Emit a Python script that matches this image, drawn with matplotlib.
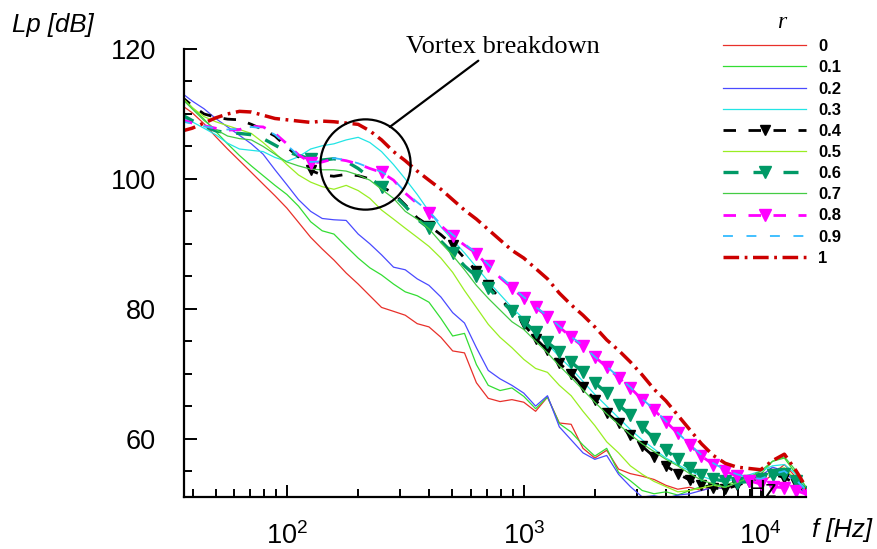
"""Sound pressure level spectra vs radial position r, with vortex-breakdown callout."""
import matplotlib
matplotlib.use("Agg")
import matplotlib.pyplot as plt
from matplotlib.lines import Line2D
from matplotlib.font_manager import FontProperties
from matplotlib.ticker import LogLocator, MultipleLocator, NullFormatter

plt.rcParams["font.family"] = ["Liberation Sans", "DejaVu Sans"]
plt.rcParams["mathtext.default"] = "regular"

# frequency grid (Hz), 1/20-decade steps
FREQ = [35.5, 39.8, 44.7, 50.1, 56.2, 63.1, 70.8, 79.4, 89.1, 100,
        112, 126, 141, 158, 178, 200, 224, 251, 282, 316,
        355, 398, 447, 501, 562, 631, 708, 794, 891, 1000,
        1122, 1259, 1413, 1585, 1778, 1995, 2239, 2512, 2818, 3162,
        3548, 3981, 4467, 5012, 5623, 6310, 7079, 7943, 8913, 10000,
        11220, 12589, 14125, 15849]

# Lp [dB], one list per radial position r
LP_R00 = [111.5, 110.2, 108.5, 106.5, 104.6, 102.8, 101.0, 99.2, 97.4, 95.5,
          93.3, 91.0, 89.2, 87.5, 85.5, 83.8, 82.0, 80.2, 79.6, 79.0,
          77.7, 77.2, 75.6, 73.5, 73.2, 68.6, 66.2, 65.7, 66.0, 65.6,
          64.2, 66.4, 62.4, 62.2, 58.5, 57.0, 58.2, 55.3, 54.6, 54.2,
          53.7, 52.8, 52.2, 52.5, 52.0, 52.6, 52.2, 53.0, 53.5, 53.0,
          54.5, 56.0, 54.0, 51.5]
LP_R01 = [113.0, 111.0, 109.2, 107.3, 105.4, 103.6, 102.0, 100.5, 99.0, 97.6,
          95.8, 93.4, 92.0, 91.5, 89.6, 87.8, 86.3, 85.2, 83.8, 82.6,
          82.0, 81.0, 78.5, 75.8, 76.2, 71.4, 68.2, 67.4, 67.8, 66.5,
          64.6, 66.4, 62.3, 61.0, 59.0, 57.3, 58.5, 54.8, 53.5, 52.0,
          51.5, 51.8, 51.3, 52.0, 52.6, 53.0, 52.8, 53.5, 54.0, 54.5,
          56.5, 57.0, 54.5, 51.5]
LP_R02 = [113.4, 112.0, 110.8, 109.3, 108.0, 106.7, 105.4, 103.8, 101.4, 99.1,
          96.8, 95.0, 93.9, 93.7, 93.6, 91.5, 90.0, 88.3, 86.4, 86.0,
          84.6, 83.6, 81.8, 79.4, 77.8, 74.0, 70.5, 69.2, 68.2, 67.0,
          65.0, 66.6, 61.8, 59.8, 57.8, 56.8, 57.4, 54.5, 52.6, 51.0,
          51.2, 50.8, 51.3, 51.5, 52.0, 52.5, 52.3, 53.0, 53.8, 54.2,
          55.6, 55.0, 53.0, 51.0]
LP_R03 = [109.6, 108.8, 107.8, 106.8, 105.5, 104.6, 104.4, 104.2, 103.3, 102.7,
          103.4, 104.6, 105.1, 105.4, 106.0, 106.4, 105.6, 104.2, 102.2, 100.0,
          97.6, 95.0, 92.6, 90.6, 88.6, 86.4, 84.2, 82.2, 80.2, 78.4,
          76.4, 74.6, 72.6, 70.8, 68.8, 66.8, 65.0, 63.2, 61.4, 59.8,
          58.4, 57.0, 56.0, 55.0, 54.2, 53.6, 53.4, 53.8, 54.4, 55.0,
          55.8, 56.0, 54.5, 52.0]
LP_R04 = [112.8, 111.3, 110.0, 109.5, 109.2, 109.1, 108.4, 107.6, 106.6, 104.9,
          103.4, 101.3, 100.6, 100.4, 100.7, 100.5, 100.0, 98.8, 97.8, 96.0,
          94.0, 92.8, 91.4, 89.8, 87.8, 85.8, 83.6, 81.6, 79.6, 77.6,
          75.4, 73.6, 71.6, 70.0, 68.0, 66.0, 64.0, 62.4, 60.5, 58.8,
          57.2, 55.8, 54.6, 53.6, 52.8, 52.4, 52.2, 52.8, 53.4, 54.0,
          54.5, 54.0, 53.0, 51.5]
LP_R05 = [112.8, 111.0, 109.6, 108.8, 108.2, 107.6, 107.0, 105.6, 104.0, 102.2,
          100.6, 99.5, 98.8, 98.4, 99.0, 98.2, 97.0, 95.2, 93.8, 92.4,
          91.0, 89.6, 87.8, 85.6, 82.8, 80.2, 77.6, 75.6, 74.0, 72.2,
          70.8, 70.2, 68.2, 66.6, 64.2, 62.0, 59.5, 57.8, 55.8, 54.5,
          53.4, 52.6, 51.8, 52.0, 52.4, 52.8, 52.5, 53.2, 53.6, 54.0,
          55.0, 55.5, 53.5, 51.5]
LP_R06 = [110.0, 109.0, 108.1, 107.4, 107.1, 107.0, 106.8, 106.2, 105.2, 104.2,
          103.6, 103.1, 102.9, 103.1, 102.7, 101.6, 100.2, 98.7, 97.6, 95.8,
          93.8, 92.4, 90.4, 88.6, 86.6, 85.0, 83.2, 81.4, 79.6, 78.0,
          76.4, 74.8, 73.4, 71.8, 70.2, 68.6, 67.0, 65.2, 63.6, 61.8,
          60.0, 58.2, 56.8, 55.4, 54.4, 53.8, 53.4, 53.2, 53.4, 53.8,
          54.4, 54.6, 53.4, 51.8]
LP_R07 = [112.6, 110.8, 109.0, 107.6, 106.6, 106.2, 106.0, 105.0, 103.8, 102.6,
          102.0, 101.5, 101.4, 101.4, 101.2, 100.6, 99.8, 98.4, 97.0, 95.0,
          93.8, 92.3, 90.2, 88.2, 86.0, 83.6, 81.6, 79.8, 78.0, 76.8,
          75.0, 73.2, 71.2, 69.4, 67.5, 65.6, 63.8, 62.2, 60.6, 59.2,
          58.0, 56.8, 55.8, 54.6, 53.6, 53.0, 52.5, 53.2, 54.0, 55.0,
          56.5, 57.2, 55.0, 52.0]
LP_R08 = [109.2, 108.6, 108.2, 107.8, 107.5, 107.6, 108.1, 108.0, 107.0, 105.4,
          103.7, 102.5, 102.6, 103.1, 102.8, 102.3, 101.6, 101.0, 99.8, 97.8,
          96.2, 94.8, 92.8, 91.2, 89.8, 88.5, 86.6, 84.8, 83.2, 81.6,
          80.2, 78.8, 77.2, 75.6, 74.2, 72.6, 71.0, 69.4, 67.8, 66.0,
          64.4, 62.6, 60.8, 59.0, 57.3, 56.0, 55.0, 54.2, 53.5, 53.0,
          52.6, 52.4, 52.0, 51.3]
LP_R09 = [108.9, 108.5, 108.1, 107.8, 107.6, 107.7, 108.0, 107.8, 106.8, 105.2,
          103.6, 102.6, 102.7, 103.2, 102.9, 102.4, 101.7, 101.1, 99.9, 98.0,
          96.4, 95.0, 93.0, 91.4, 90.0, 88.6, 86.8, 85.0, 83.4, 81.8,
          80.3, 78.9, 77.3, 75.7, 74.3, 72.6, 71.1, 69.5, 67.9, 66.1,
          64.5, 62.7, 60.9, 59.1, 57.5, 56.2, 55.2, 54.5, 54.0, 53.8,
          54.5, 55.0, 53.6, 51.8]
LP_R10 = [107.3, 107.8, 108.6, 109.4, 110.0, 110.4, 110.3, 109.8, 109.3, 109.1,
          108.9, 108.7, 108.9, 108.8, 108.6, 108.4, 107.4, 106.0, 104.2, 102.8,
          101.2, 99.8, 98.4, 96.8, 95.2, 93.8, 92.2, 90.6, 89.0, 87.8,
          86.2, 84.6, 82.4, 80.6, 79.0, 77.2, 75.2, 73.6, 71.8, 69.8,
          67.6, 65.8, 63.6, 61.4, 59.2, 57.4, 56.2, 55.6, 55.4, 55.2,
          56.6, 57.6, 55.0, 52.0]

SERIES = [LP_R00, LP_R01, LP_R02, LP_R03, LP_R04, LP_R05,
          LP_R06, LP_R07, LP_R08, LP_R09, LP_R10]
R_LABELS = ["0", "0.1", "0.2", "0.3", "0.4", "0.5", "0.6", "0.7", "0.8", "0.9", "1"]

# grid indices that carry a triangle on the marked curves (~every 125 Hz)
MARK_IDX = [11, 17, 21, 23, 25, 26, 28] + list(range(29, 54))

DASH = (0, (4.5, 4.5))
STYLES = [
    dict(color="#e8302a", lw=0.9, ls="-"),
    dict(color="#33dd33", lw=0.9, ls="-"),
    dict(color="#4a4aff", lw=0.9, ls="-"),
    dict(color="#22e5e5", lw=0.9, ls="-"),
    dict(color="black", lw=2.0, ls=DASH, marker="v", ms=7, mfc="black", mec="black"),
    dict(color="#99ee22", lw=0.9, ls="-"),
    dict(color="#009966", lw=2.4, ls=DASH, marker="v", ms=8.5, mfc="#009966", mec="#009966"),
    dict(color="#44cc44", lw=0.9, ls="-"),
    dict(color="#ff00ff", lw=2.0, ls=DASH, marker="v", ms=8.5, mfc="#ff00ff", mec="#ff00ff"),
    dict(color="#33bbff", lw=1.3, ls=(0, (5.5, 7.5))),
    dict(color="#cc0000", lw=2.5, ls=(0, (4.5, 1.6, 0.8, 1.6))),
]

fig = plt.figure(figsize=(8.77, 5.49), dpi=100)
ax = fig.add_axes([0.2098, 0.0947, 0.709, 0.816])

for lp, st in zip(SERIES, STYLES):
    kw = dict(st)
    if "marker" in kw:
        kw["markevery"] = MARK_IDX
    ax.plot(FREQ, lp, **kw)

ax.set_xscale("log")
ax.set_xlim(36.8, 15500)
ax.set_ylim(51, 120)

ax.spines["top"].set_visible(False)
ax.spines["right"].set_visible(False)
for s in ("left", "bottom"):
    ax.spines[s].set_linewidth(1.6)

ax.yaxis.set_major_locator(MultipleLocator(20))
ax.yaxis.set_minor_locator(MultipleLocator(5))
ax.xaxis.set_major_locator(LogLocator(base=10))
ax.xaxis.set_minor_locator(LogLocator(base=10, subs=range(2, 10)))
ax.xaxis.set_minor_formatter(NullFormatter())
ax.tick_params(which="both", direction="in", width=1.4, colors="black")
ax.tick_params(which="major", length=9)
ax.tick_params(which="minor", length=5.5)
ax.tick_params(axis="y", which="major", labelsize=19.5, pad=20)
ax.tick_params(axis="x", which="major", labelsize=19.5, pad=18)

fig.text(12 / 877, 1 - 25 / 549, "Lp [dB]", style="italic", fontsize=18.5, va="center", ha="left")
fig.text(812 / 877, 1 - 530 / 549, "f [Hz]", style="italic", fontsize=18.5, va="center", ha="left")

# vortex breakdown callout
ax.plot([214], [102.3], marker="o", ms=65, mfc="none", mec="black", mew=1.6, clip_on=False)
ax.annotate("Vortex breakdown", xy=(272, 108.0), xytext=(820, 119.4),
            ha="center", va="baseline", fontsize=19, family="Liberation Serif",
            arrowprops=dict(arrowstyle="-", color="black", lw=1.6,
                            shrinkA=0, shrinkB=0, relpos=(0.39, 0.0)),
            annotation_clip=False)
ax.text(0.931, 0.0, "Hz", transform=ax.transAxes, ha="center", va="baseline", fontsize=17)

handles = [Line2D([], [], **st) for st in STYLES]
leg = fig.legend(handles, R_LABELS, loc="upper left", bbox_to_anchor=(723 / 877, 1 - 12 / 549),
                 frameon=False, handlelength=5.0, handletextpad=0.7, labelspacing=0.37,
                 borderpad=0, borderaxespad=0, numpoints=1, title="r",
                 prop=dict(weight="bold", size=12))
leg.get_title().set_fontproperties(FontProperties(family="Liberation Serif", style="italic", size=17))

fig.savefig("out.png", dpi=100)
